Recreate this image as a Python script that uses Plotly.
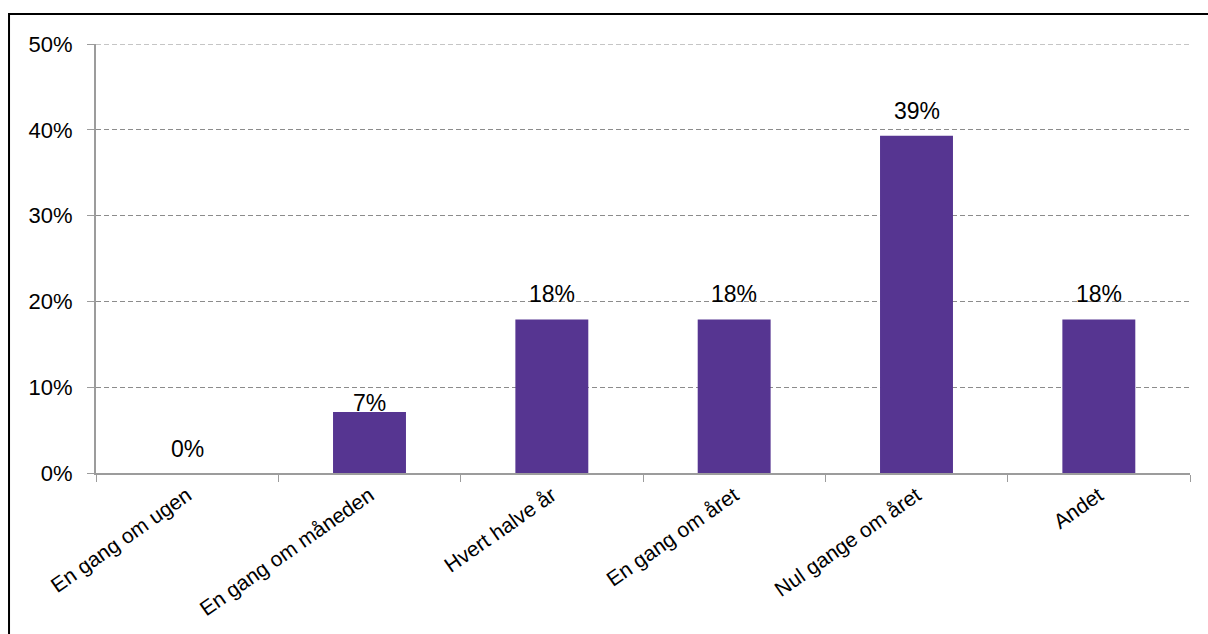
import plotly.graph_objects as go

categories = ["En gang om ugen", "En gang om måneden", "Hvert halve år",
              "En gang om året", "Nul gange om året", "Andet"]
values = [0.0, 7.1, 17.9, 17.9, 39.3, 17.9]
labels = ["0%", "7%", "18%", "18%", "39%", "18%"]
label_shift = [24, 9, 25, 25, 25, 25]
y_ticks = [0, 10, 20, 30, 40, 50]
y_tick_text = ["0%", "10%", "20%", "30%", "40%", "50%"]

FONT = "Liberation Sans, Arial"

fig = go.Figure()
fig.add_trace(go.Bar(
    x=categories, y=values,
    marker=dict(color="#563591", line=dict(width=0)),
    width=0.4,
))
for c, v, t, s in zip(categories, values, labels, label_shift):
    fig.add_annotation(x=c, y=v, text=t, showarrow=False, yshift=s,
                       font=dict(family=FONT, size=23, color="#000000"))

fig.update_layout(
    width=1208, height=634,
    margin=dict(l=96, r=18, t=44, b=161),
    paper_bgcolor="white", plot_bgcolor="white",
    showlegend=False,
    font=dict(family=FONT, size=22, color="#000000"),
)
fig.update_yaxes(
    range=[0, y_ticks[-1]], tickvals=y_ticks, ticktext=y_tick_text,
    showgrid=True, gridcolor="#8c8c8c", griddash="5px,3px", gridwidth=1,
    showline=True, linecolor="#9c9c9c", linewidth=2,
    ticks="outside", ticklen=7, tickcolor="#9c9c9c", tickwidth=1,
    tickfont=dict(size=22), ticklabelstandoff=10, zeroline=False,
    automargin=False,
)
fig.update_xaxes(
    showline=True, linecolor="#9c9c9c", linewidth=2,
    ticks="outside", tickson="boundaries", ticklen=7, tickcolor="#9c9c9c",
    tickangle=-35, tickfont=dict(size=21), showgrid=False,
    automargin=False,
)
# top gridline (at the range edge, which plotly omits)
fig.add_shape(type="line", xref="paper", yref="y", x0=0, x1=1,
              y0=y_ticks[-1], y1=y_ticks[-1],
              line=dict(color="#8c8c8c", width=1, dash="5px,3px"))
# outer border
fig.add_shape(type="rect", xref="paper", yref="paper",
              x0=-0.0795, x1=1.06, y0=-0.45, y1=1.0699,
              line=dict(color="#000000", width=2), fillcolor="rgba(0,0,0,0)")
fig.write_html("out.html", config={"displayModeBar": False},
               post_script="document.body.style.margin='0';")
